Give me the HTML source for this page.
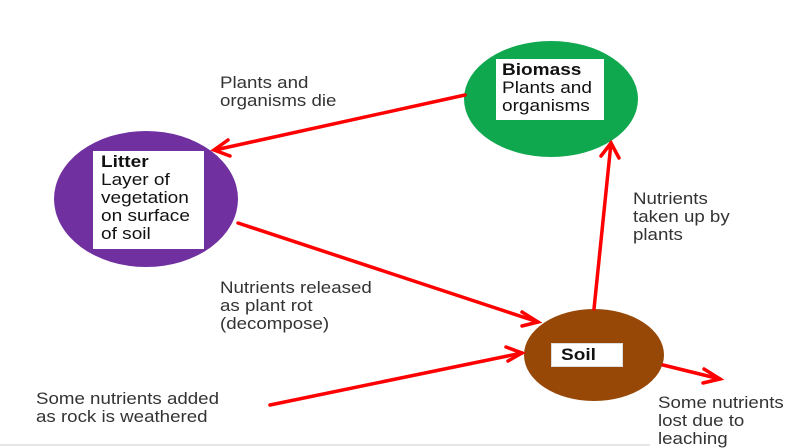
<!DOCTYPE html>
<html><head><style>
body{margin:0;width:800px;height:446px;background:#fff;overflow:hidden;position:relative;font-family:"Liberation Sans",sans-serif;}
.t{position:absolute;font-size:17px;line-height:18px;color:#333;transform:scaleX(1.1);transform-origin:0 0;white-space:nowrap;}
.box{position:absolute;background:#fff;box-sizing:border-box;}
.box span{position:absolute;left:6px;top:2px;font-size:17px;line-height:18px;color:#111;transform:scaleX(1.12);transform-origin:0 0;white-space:nowrap;}
</style></head><body>
<svg width="800" height="446" style="position:absolute;left:0;top:0">
<ellipse cx="551" cy="99" rx="87" ry="58" fill="#10a84e"/>
<ellipse cx="146" cy="199" rx="92" ry="68" fill="#7030a0"/>
<ellipse cx="594" cy="355" rx="70" ry="46" fill="#974806"/>
<g stroke="#f00" stroke-width="3.5" fill="none" stroke-linecap="round">
<line x1="465" y1="95" x2="215" y2="150"/><polyline points="228,140 214,150 230,156"/>
<line x1="238" y1="223" x2="538" y2="322"/><polyline points="522,312 538,322 522,326"/>
<line x1="594" y1="309" x2="611" y2="143"/><polyline points="601,156 611,143 619,158"/>
<line x1="270" y1="405" x2="522" y2="353"/><polyline points="506,347 522,353 508,361"/>
<line x1="663" y1="365" x2="720" y2="379"/><polyline points="704,369 720,379 703,383"/>
</g>
<line x1="0" y1="445" x2="650" y2="445" stroke="#ccc" stroke-width="1"/>
</svg>
<div class="box" style="left:496px;top:59px;width:108px;height:61px"><span><b>Biomass</b><br>Plants and<br>organisms</span></div>
<div class="box" style="left:93px;top:151px;width:111px;height:98px"><span style="left:8px"><b>Litter</b><br>Layer of<br>vegetation<br>on surface<br>of soil</span></div>
<div class="box" style="left:551px;top:343px;width:72px;height:24px;border:1px solid #ddd"><span style="left:9px;top:2px"><b>Soil</b></span></div>
<div class="t" style="left:220px;top:74px">Plants and<br>organisms die</div>
<div class="t" style="left:220px;top:279px">Nutrients released<br>as plant rot<br>(decompose)</div>
<div class="t" style="left:36px;top:390px">Some nutrients added<br>as rock is weathered</div>
<div class="t" style="left:633px;top:190px">Nutrients<br>taken up by<br>plants</div>
<div class="t" style="left:658px;top:394px">Some nutrients<br>lost due to<br>leaching</div>
</body></html>
